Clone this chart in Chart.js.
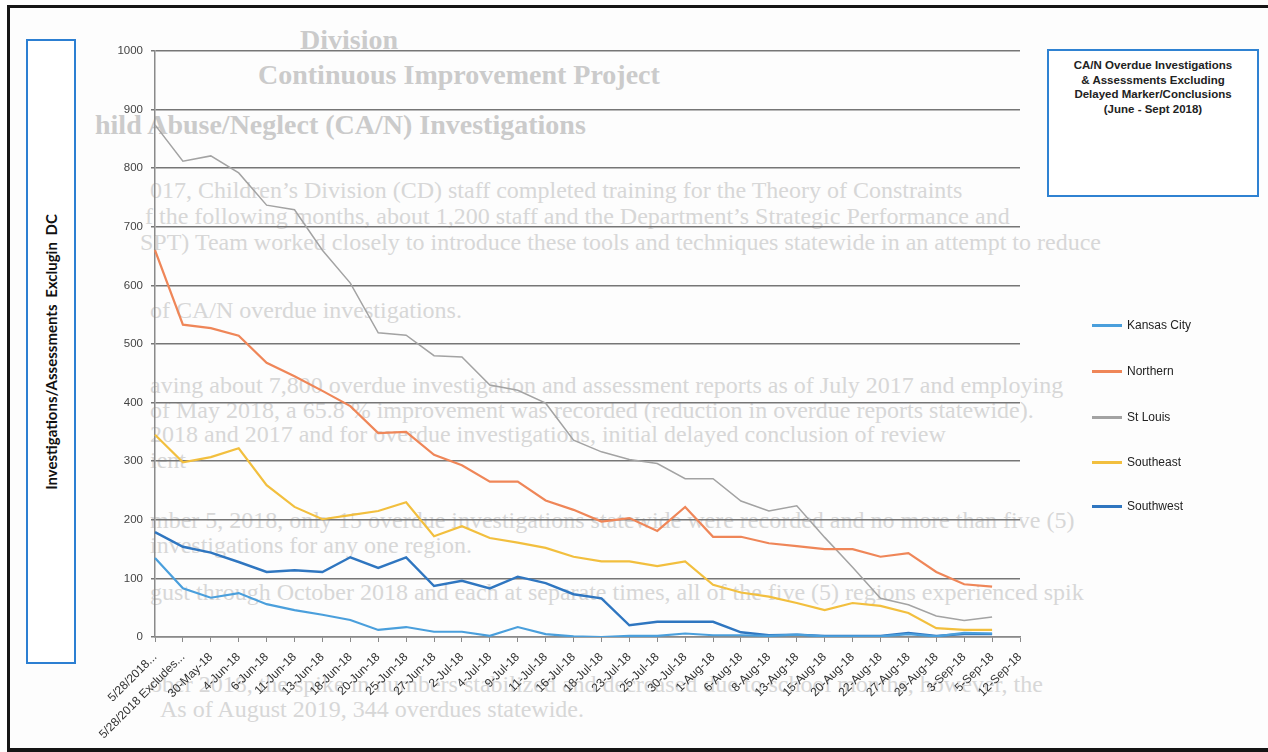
<!DOCTYPE html>
<html>
<head>
<meta charset="utf-8">
<title>CA/N Overdue Investigations</title>
<script src="https://cdn.jsdelivr.net/npm/chart.js@4.4.1/dist/chart.umd.min.js"></script>
<style>
  html, body { margin: 0; padding: 0; background: #fff; }
  #page { position: relative; width: 1268px; height: 752px; overflow: hidden; background: #fdfdfd; }
  #bleed { position: absolute; left: 0; top: 0; width: 1268px; height: 752px;
           font-family: "Liberation Serif", serif; font-size: 24px; line-height: 24px;
           color: #d7d7d7; white-space: nowrap; }
  #bleed div { position: absolute; }
  #bleed .h { font-weight: bold; font-size: 28px; line-height: 28px; color: #cbcbcb; }
  #frame { position: absolute; left: 7px; top: 5px; width: 1300px; height: 740px;
           border-left: 3px solid #151515; border-top: 3px solid #151515; border-bottom: 4px solid #151515; }
  #chartWrap { position: absolute; left: 0; top: 0; width: 1268px; height: 752px; }
  #ytitle { position: absolute; left: 26px; top: 39px; width: 46px; height: 621px;
            border: 2px solid #2c7fd2; background: #fff; }
  #ytitle span { position: absolute; left: 50%; top: 50%; transform: translate(-50%, -50%) rotate(-90deg);
                 white-space: nowrap; font-family: Lato, "Open Sans", sans-serif; font-weight: bold;
                 font-size: 15px; color: #111; word-spacing: 3px; }
  #titlebox { position: absolute; left: 1047px; top: 49px; width: 212px; height: 148px;
              border: 2px solid #2f82d2; background: #fff; text-align: center;
              font-family: "Liberation Sans", Arial, sans-serif; font-weight: bold; font-size: 11.5px;
              line-height: 14.5px; color: #222; padding-top: 7px; box-sizing: border-box; }
  #legend { position: absolute; left: 1092px; top: 0; font-family: "Liberation Sans", Arial, sans-serif;
            font-size: 12px; color: #222; }
  .li { position: absolute; left: 0; white-space: nowrap; }
  .li i { position: absolute; left: 0; top: 7px; width: 30px; height: 2.5px; }
  .li b { position: absolute; left: 35px; top: 0; font-weight: normal; line-height: 16px; }
</style>
</head>
<body>
<div id="page">
  <div id="bleed"></div>
  <div id="frame"></div>
  <div id="chartWrap"><canvas id="chart" width="1268" height="752"></canvas></div>
  <div id="ytitle"><span>Investigations/Assessments  Exclugin  DC</span></div>
  <div id="titlebox"></div>
  <div id="legend"></div>
</div>
<script>
const categories = ["5/28/2018...", "5/28/2018 Excludes...", "30-May-18", "4-Jun-18", "6-Jun-18",
  "11-Jun-18", "13-Jun-18", "18-Jun-18", "20-Jun-18", "25-Jun-18", "27-Jun-18", "2-Jul-18",
  "4-Jul-18", "9-Jul-18", "11-Jul-18", "16-Jul-18", "18-Jul-18", "23-Jul-18", "25-Jul-18",
  "30-Jul-18", "1-Aug-18", "6-Aug-18", "8-Aug-18", "13-Aug-18", "15-Aug-18", "20-Aug-18",
  "22-Aug-18", "27-Aug-18", "29-Aug-18", "3-Sep-18", "5-Sep-18", "12-Sep-18"];

const kansasCity = [135, 83, 67, 75, 56, 46, 38, 29, 12, 17, 9, 9, 2, 17, 5, 1, 0, 2, 2, 6,
  3, 3, 2, 4, 1, 1, 1, 5, 1, 7, 6];
const northern = [660, 533, 527, 514, 468, 445, 420, 394, 348, 350, 311, 293, 265, 265, 233,
  217, 197, 203, 181, 222, 171, 171, 160, 155, 150, 150, 137, 143, 111, 90, 86];
const stLouis = [874, 812, 821, 792, 737, 729, 660, 604, 519, 515, 480, 478, 430, 421, 399,
  336, 316, 303, 296, 270, 270, 232, 215, 224, 170, 119, 66, 55, 36, 28, 34];
const southeast = [345, 298, 307, 322, 259, 222, 201, 208, 215, 230, 172, 189, 169, 161, 152,
  137, 129, 129, 121, 129, 89, 76, 69, 58, 46, 58, 53, 41, 15, 12, 12];
const southwest = [179, 154, 144, 128, 111, 114, 111, 136, 118, 136, 87, 96, 83, 103, 92,
  73, 66, 20, 26, 26, 26, 8, 3, 4, 2, 2, 2, 7, 2, 5, 5];

const seriesNames = ["Kansas City", "Northern", "St Louis", "Southeast", "Southwest"];
const yTicks = [0, 100, 200, 300, 400, 500, 600, 700, 800, 900, 1000];

const titleLines = ["CA/N Overdue Investigations", "& Assessments Excluding",
  "Delayed Marker/Conclusions", "(June - Sept 2018)"];

// faint text from the other side of the scanned page
const bleedLines = [
  [300, 26, "Division", true],
  [258, 61, "Continuous Improvement Project", true],
  [95, 111, "hild Abuse/Neglect (CA/N) Investigations", true],
  [150, 178, "017, Children\u2019s Division (CD) staff completed training for the Theory of Constraints"],
  [145, 204, "f the following months, about 1,200 staff and the Department\u2019s Strategic Performance and"],
  [140, 230, "SPT) Team worked closely to introduce these tools and techniques statewide in an attempt to reduce"],
  [150, 298, "of CA/N overdue investigations."],
  [150, 373, "aving about 7,800 overdue investigation and assessment reports as of July 2017 and employing"],
  [150, 398, "of May 2018, a 65.8 % improvement was recorded (reduction in overdue reports statewide)."],
  [150, 422, "2018 and 2017 and for overdue investigations, initial delayed conclusion of review"],
  [150, 448, "ient"],
  [150, 508, "mber 5, 2018, only 15 overdue investigations statewide were recorded and no more than five (5)"],
  [150, 533, "investigations for any one region."],
  [150, 580, "gust through October 2018 and each at separate times, all of the five (5) regions experienced spik"],
  [150, 672, "ober 2018, the spike in numbers stabilized and decreased due to school months, however, the"],
  [160, 697, "As of August 2019, 344 overdues statewide."]
];

const colors = ["#4a9fdc", "#ef8658", "#a3a3a3", "#f2bf3e", "#2f76c0"];
const widths = [2.2, 2.2, 1.5, 2.2, 2.4];

const bleed = document.getElementById("bleed");
bleedLines.forEach(l => {
  const d = document.createElement("div");
  d.style.left = l[0] + "px";
  d.style.top = l[1] + "px";
  if (l[3]) d.className = "h";
  d.textContent = l[2];
  bleed.appendChild(d);
});

document.getElementById("titlebox").innerHTML = titleLines.join("<br>");

const legendTops = [317, 363, 409, 454, 498];
const legend = document.getElementById("legend");
seriesNames.forEach((name, i) => {
  legend.innerHTML += `<div class="li" style="top:${legendTops[i]}px"><i style="background:${colors[i]}"></i><b>${name}</b></div>`;
});

const seriesData = [kansasCity, northern, stLouis, southeast, southwest];

new Chart(document.getElementById("chart"), {
  type: "line",
  data: {
    labels: categories,
    datasets: seriesNames.map((name, i) => ({
      label: name,
      data: seriesData[i],
      borderColor: colors[i],
      backgroundColor: colors[i],
      borderWidth: widths[i],
      pointRadius: 0,
      tension: 0,
      fill: false
    }))
  },
  options: {
    responsive: false,
    animation: false,
    layout: { padding: { top: 51, right: 248, left: 0, bottom: 0 } },
    plugins: { legend: { display: false }, tooltip: { enabled: false } },
    scales: {
      x: {
        offset: false,
        afterFit: s => { s.height = 115; },
        grid: { display: true, drawOnChartArea: false, drawTicks: true, tickLength: 5, color: "#8a8a8a", lineWidth: 1 },
        border: { display: true, color: "#8a8a8a", width: 1.5 },
        ticks: {
          autoSkip: false, maxRotation: 45, minRotation: 45, padding: 8,
          color: "#333", font: { family: "'Liberation Sans', Arial", size: 12 }
        }
      },
      y: {
        min: 0, max: 1000,
        afterFit: s => { s.width = 155; },
        afterBuildTicks: s => { s.ticks = yTicks.map(v => ({ value: v })); },
        grid: { color: "#767676", lineWidth: 1.5, tickLength: 4 },
        border: { display: true, color: "#8a8a8a", width: 1.5 },
        ticks: {
          padding: 8, color: "#444",
          font: { family: "'Liberation Sans', Arial", size: 11.5 },
          callback: v => String(v)
        }
      }
    }
  }
});
</script>
</body>
</html>
